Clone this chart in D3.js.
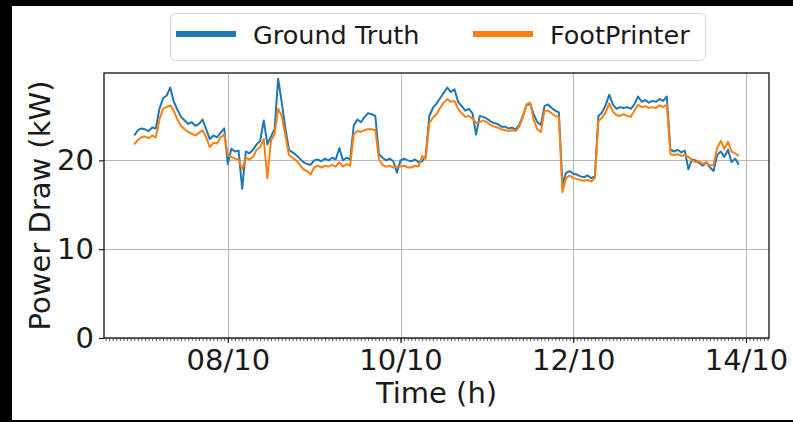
<!DOCTYPE html>
<html>
<head>
<meta charset="utf-8">
<script src="https://cdn.jsdelivr.net/npm/d3@7/dist/d3.min.js"></script>
<style>
  html, body { margin: 0; padding: 0; background: #000; }
  svg { display: block; }
  text { font-family: "DejaVu Sans", sans-serif; fill: #1a1a1a; }
</style>
</head>
<body>
<svg id="chart" width="793" height="422"></svg>
<script>
// Hourly power draw samples, starting 06/10 22:00 (UTC)
const startTime = "2024-10-06T22:00:00Z";
const stepHours = 1;

const groundTruth = [
  22.8, 23.4, 23.6, 23.5, 23.3, 23.7, 23.6, 25.8, 27.0, 27.3, 28.2, 26.6, 25.7, 24.9, 24.5, 24.1,
  24.3, 23.9, 24.1, 24.6, 23.5, 22.4, 22.8, 22.6, 23.1, 23.6,
  19.6, 21.3, 21.0, 21.1, 16.8, 21.0, 20.8, 21.2, 21.8, 22.2, 24.5, 21.8, 22.7, 23.5, 29.2, 26.5,
  23.6, 21.2, 20.9, 20.6, 20.2, 19.8, 19.6, 19.5,
  20.0, 20.1, 19.9, 20.2, 20.0, 20.3, 20.1, 21.4, 20.0, 20.3, 20.1, 23.9, 24.6, 24.3, 24.9, 25.3,
  25.2, 25.0, 20.7, 20.3, 20.0, 20.2, 19.9, 18.6,
  20.0, 20.2, 20.0, 19.9, 20.1, 19.8, 19.9, 20.5, 25.0, 25.9, 26.4, 27.0, 27.6, 28.2, 27.7, 28.0,
  26.6, 26.1, 25.6, 25.8, 25.3, 22.9, 25.0, 24.9,
  24.7, 24.4, 24.2, 24.1, 23.8, 23.8, 23.6, 23.7, 23.5, 24.0, 25.0, 26.2, 26.4, 25.2, 24.3, 24.0,
  26.1, 26.3, 25.9, 25.6, 25.4, 17.3, 18.6, 18.8,
  18.5, 18.4, 18.2, 18.1, 18.3, 18.0, 18.2, 25.0, 25.4, 26.2, 27.4, 26.3, 25.8, 26.0, 25.9, 26.0,
  25.8, 26.3, 27.2, 26.6, 26.8, 26.5, 26.7, 26.6,
  26.9, 26.7, 27.2, 21.2, 21.0, 21.2, 20.9, 21.1, 19.0, 20.1, 20.0, 19.7, 19.4, 19.8, 19.2, 18.8,
  20.6, 21.0, 20.4, 21.2, 19.8, 20.2, 19.5
];

const footPrinter = [
  21.8, 22.3, 22.6, 22.7, 22.5, 22.8, 22.6, 24.6, 25.8, 26.0, 26.2, 25.6, 24.6, 23.9, 23.5, 23.2,
  23.0, 22.8, 23.1, 23.4, 22.6, 21.5, 22.0, 21.9, 22.6, 22.9,
  20.6, 20.4, 20.2, 20.1, 19.0, 20.3, 20.1, 20.4, 21.2, 21.5, 22.4, 18.0, 22.2, 23.0, 25.8, 25.0,
  22.8, 20.6, 20.3, 20.0, 19.5, 19.0, 18.8, 18.4,
  19.2, 19.4, 19.2, 19.4, 19.3, 19.5, 19.3, 19.8, 19.3, 19.6, 19.4, 22.9, 23.3, 23.2, 23.4, 23.5,
  23.5, 23.4, 20.1, 19.5, 19.3, 19.4, 19.2, 19.3,
  19.3, 19.4, 19.2, 19.2, 19.4, 19.3, 20.5, 20.2, 24.2, 24.8, 25.2, 25.9, 26.5, 26.9, 26.6, 26.7,
  25.8, 25.3, 24.9, 25.0, 24.7, 24.2, 24.3, 24.5,
  24.3, 24.0, 23.8, 23.7, 23.5, 23.4, 23.3, 23.4, 23.3, 23.8, 24.9, 26.3, 26.5, 24.6, 23.5, 23.2,
  25.6, 25.6, 25.3, 25.0, 24.9, 16.4, 18.0, 18.3,
  18.0, 17.9, 17.8, 17.7, 17.8, 17.6, 18.0, 24.4, 24.8, 25.4, 26.4, 25.5, 25.1, 25.0, 25.2, 25.0,
  24.9, 25.6, 26.3, 26.0, 26.1, 25.9, 26.0, 25.9,
  26.2, 26.0, 26.3, 20.7, 20.6, 20.7, 20.5, 20.6, 20.4, 20.0, 19.8, 19.9, 19.6, 19.8, 19.4, 19.5,
  21.4, 22.2, 21.3, 22.1, 21.0, 20.8, 20.5
];

const seriesNames = ["Ground Truth", "FootPrinter"];
const seriesColors = ["#1f77b4", "#ff7f0e"];

const yTickValues = [0, 10, 20];
const xTickDates = ["2024-10-08T00:00:00Z", "2024-10-10T00:00:00Z", "2024-10-12T00:00:00Z", "2024-10-14T00:00:00Z"];
const xTickLabels = ["08/10", "10/10", "12/10", "14/10"];

const xTitle = "Time (h)";
const yTitle = "Power Draw (kW)";

// ---- layout ----
const W = 793, H = 422;
const plot = { left: 104, top: 73, right: 769, bottom: 338 };

const svg = d3.select("#chart");

// white figure area with dark frame edges
svg.append("rect").attr("x", 0).attr("y", 0).attr("width", W).attr("height", H).attr("fill", "#000");
svg.append("rect").attr("x", 12).attr("y", 6).attr("width", W - 12).attr("height", 414).attr("fill", "#fff");

const t0 = new Date(startTime).getTime();
const times = groundTruth.map((_, i) => new Date(t0 + i * stepHours * 3600e3));

// matplotlib-style 5% x margins; y from 0 with 5% top margin
const tMin = times[0].getTime(), tMax = times[times.length - 1].getTime();
const tPad = (tMax - tMin) * 0.05;
const allVals = groundTruth.concat(footPrinter);
const vMin = d3.min(allVals), vMax = d3.max(allVals);

const x = d3.scaleUtc()
  .domain([new Date(tMin - tPad), new Date(tMax + tPad)])
  .range([plot.left, plot.right]);
const y = d3.scaleLinear()
  .domain([0, vMax + (vMax - vMin) * 0.05])
  .range([plot.bottom, plot.top]);

// grid
const grid = svg.append("g").attr("stroke", "#b8b8b8").attr("stroke-width", 1);
xTickDates.forEach(d => {
  const px = Math.round(x(new Date(d))) + 0.5;
  if (px <= plot.right) grid.append("line").attr("x1", px).attr("x2", px).attr("y1", plot.top).attr("y2", plot.bottom);
});
yTickValues.forEach(v => {
  const py = Math.round(y(v)) + 0.5;
  grid.append("line").attr("x1", plot.left).attr("x2", plot.right).attr("y1", py).attr("y2", py);
});

// lines
svg.append("clipPath").attr("id", "clip")
  .append("rect").attr("x", plot.left).attr("y", plot.top)
  .attr("width", plot.right - plot.left).attr("height", plot.bottom - plot.top);

const line = d3.line().x((d, i) => x(times[i])).y(d => y(d));
[groundTruth, footPrinter].forEach((s, k) => {
  svg.append("path")
    .datum(s)
    .attr("clip-path", "url(#clip)")
    .attr("fill", "none")
    .attr("stroke", seriesColors[k])
    .attr("stroke-width", 2)
    .attr("stroke-linejoin", "round")
    .attr("d", line);
});

// x axis: hourly minor ticks and labelled major ticks
const minorTicks = d3.utcHour.range(x.domain()[0], x.domain()[1]);
svg.append("g")
  .attr("transform", `translate(0,${plot.bottom})`)
  .call(d3.axisBottom(x).tickValues(minorTicks).tickSize(3).tickFormat(""))
  .call(g => g.select(".domain").remove())
  .call(g => g.selectAll("line").attr("stroke", "#333").attr("stroke-width", 0.8));

const majorDates = xTickDates.map(d => new Date(d));
svg.append("g")
  .attr("transform", `translate(0,${plot.bottom})`)
  .call(d3.axisBottom(x).tickValues(majorDates).tickSize(5).tickPadding(6)
    .tickFormat((d, i) => xTickLabels[i]))
  .call(g => g.select(".domain").remove())
  .call(g => g.selectAll("line").attr("stroke", "#222").attr("stroke-width", 1.2))
  .call(g => g.selectAll("text").attr("font-size", 29).attr("fill", "#1a1a1a")
    .attr("font-family", "DejaVu Sans, sans-serif"));

// y axis
svg.append("g")
  .attr("transform", `translate(${plot.left},0)`)
  .call(d3.axisLeft(y).tickValues(yTickValues).tickSize(5).tickPadding(5))
  .call(g => g.select(".domain").remove())
  .call(g => g.selectAll("line").attr("stroke", "#222").attr("stroke-width", 1.2))
  .call(g => g.selectAll("text").attr("font-size", 29).attr("fill", "#1a1a1a")
    .attr("font-family", "DejaVu Sans, sans-serif"));

// frame
svg.append("rect")
  .attr("x", plot.left).attr("y", plot.top)
  .attr("width", plot.right - plot.left).attr("height", plot.bottom - plot.top)
  .attr("fill", "none").attr("stroke", "#111").attr("stroke-width", 1.3);

// axis titles
svg.append("text")
  .attr("x", (plot.left + plot.right) / 2).attr("y", 403)
  .attr("text-anchor", "middle").attr("font-size", 29)
  .text(xTitle);
svg.append("text")
  .attr("transform", `translate(50,${(plot.top + plot.bottom) / 2}) rotate(-90)`)
  .attr("text-anchor", "middle").attr("font-size", 29)
  .text(yTitle);

// legend
const lg = svg.append("g");
lg.append("rect")
  .attr("x", 170.5).attr("y", 13.5).attr("width", 535).attr("height", 47)
  .attr("rx", 5).attr("fill", "#fff").attr("stroke", "#d6d6d6").attr("stroke-width", 1);
const legendX = [176, 473];
seriesNames.forEach((name, k) => {
  lg.append("line")
    .attr("x1", legendX[k]).attr("x2", legendX[k] + 60)
    .attr("y1", 34).attr("y2", 34)
    .attr("stroke", seriesColors[k]).attr("stroke-width", 6);
  lg.append("text")
    .attr("x", legendX[k] + 77).attr("y", 44)
    .attr("font-size", 25.5)
    .text(name);
});
</script>
</body>
</html>
